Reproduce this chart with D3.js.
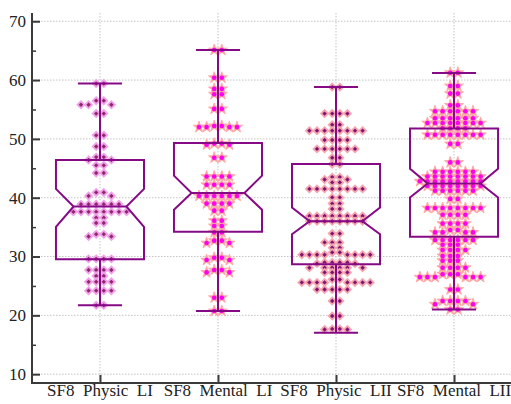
<!DOCTYPE html>
<html>
<head>
<meta charset="utf-8">
<script src="https://cdn.jsdelivr.net/npm/d3@7"></script>
<style>
  body { margin: 0; background: #fff; }
  svg { display: block; }
  text { font-family: "Liberation Serif", "Times New Roman", serif; fill: #222; }
</style>
</head>
<body>
<svg width="511" height="404"></svg>
<script>
const categories = ['SF8  Physic  LI', 'SF8  Mental  LI', 'SF8  Physic  LII', 'SF8  Mental  LII'];
const yTicks = [10, 20, 30, 40, 50, 60, 70];

// box statistics
const q1s       = [29.55, 34.2, 28.7, 33.35];
const medians   = [38.5, 40.8, 36.0, 42.4];
const q3s       = [46.4, 49.3, 45.75, 51.75];
const notchLo   = [35.05, 37.95, 33.8, 40.05];
const notchHi   = [41.5, 43.75, 38.35, 44.9];
const whiskLo   = [21.7, 20.75, 17.05, 21.0];
const whiskHi   = [59.4, 65.1, 58.8, 61.2];

// raw points
const physLI = [59.4,59.4, 56.5,56.5, 55.8,55.8,55.8, 54.3,54.3, 50.6,50.6, 48.7,48.7,
  46.9,46.9, 46.4,46.4, 45.5,45.5, 44.2,44.2, 40.9,40.9, 40.3,40.3,
  38.9,38.9,38.9,38.9,38.9,38.9, 37.6,37.6,37.6,37.6,37.6,37.6,37.6,37.6,
  36.6,36.6, 35.7,35.7, 33.8,33.8, 33.4,33.4, 29.6,29.6,29.6,29.6,
  27.7,27.7,27.7,27.7, 26.7,26.7, 25.7,25.7,25.7,25.7, 24.2,24.2,24.2,24.2, 21.7,21.7];

const mentLI = [65.1,65.1, 60.4,60.4, 58.5,58.5, 57.6,57.6, 55.1,55.1,
  52.2,52.2, 52.0,52.0,52.0,52.0, 49.2,49.2, 49.0,49.0, 46.8,46.8,
  43.6,43.6,43.6,43.6, 42.2,42.2,42.2,42.2, 40.3,40.3,40.3,40.3,40.3,40.3,
  39.0,39.0,39.0,39.0, 37.8,37.8, 36.1,36.1, 35.2,35.2, 34.1,34.1,
  32.7,32.7, 32.3,32.3, 29.8,29.8, 29.4,29.4, 27.7,27.7, 27.3,27.3,
  23.0,23.0, 20.75,20.75];

const physLII = [58.8,58.8, 54.3,54.3,54.3,54.3, 52.4,52.4,
  51.4,51.4,51.4,51.4,51.4,51.4,51.4,51.4, 49.8,49.8,49.8,49.8,
  48.3,48.3,48.3,48.3,48.3,48.3, 46.8,46.8, 45.7,45.7,
  43.5,43.5, 43.1,43.1, 42.6,42.6, 41.5,41.5,41.5,41.5,41.5,41.5,41.5,41.5,
  40.05,40.05, 39.0,39.0, 38.1,38.1,
  36.9,36.9,36.9,36.9,36.9,36.9,36.9,36.9, 36.0,36.0,36.0,36.0,36.0,36.0,36.0,36.0,
  33.9,33.9, 32.4,32.4,32.4, 31.5,31.5, 30.7,30.7,
  30.3,30.3,30.3,30.3,30.3,30.3,30.3,30.3, 29.0,29.0,29.0,29.0, 28.8,28.8,
  28.1,28.1,28.1,28.1,28.1,28.1, 27.3,27.3,27.3,27.3, 26.1,26.1,
  25.6,25.6,25.6,25.6,25.6,25.6,25.6,25.6, 24.4,24.4,24.4,24.4,24.4,
  22.45,22.45, 19.9,19.9, 17.7,17.7, 17.6,17.6];

const mentLII = [61.25,61.25, 59.0,59.0, 57.7,57.7, 55.7,55.7,
  54.7,54.7,54.7,54.7,54.7,54.7, 53.5,53.5,53.5,53.5,53.5,53.5,
  52.7,52.7,52.7,52.7,52.7,52.7,52.7,52.7, 51.8,51.8,51.8,51.8,
  50.7,50.7,50.7,50.7,50.7,50.7,50.7,50.7, 49.15,49.15, 46.0,46.0,
  44.4,44.4,44.4,44.4,44.4,44.4, 43.6,43.6,43.6,43.6,43.6,43.6,43.6,43.6,
  42.8,42.8,42.8,42.8,42.8,42.8,42.8,42.8,42.8, 42.0,42.0,42.0,42.0,42.0,42.0,42.0,42.0,
  41.2,41.2,41.2,41.2,41.2,41.2, 39.8,39.8,
  38.25,38.25,38.25,38.25,38.25,38.25,38.25,38.25, 37.1,37.1,37.1,37.1,
  35.6,35.6,35.6,35.6, 34.5,34.5, 34.1,34.1,34.1,34.1,
  32.8,32.8,32.8,32.8,32.8,32.8, 32.0,32.0,32.0, 31.1,31.1,31.1,31.1,
  30.1,30.1,30.1, 29.3,29.3,29.3, 28.1,28.1,28.1,28.1, 27.0,27.0,27.0,
  26.5,26.5,26.5,26.5,26.5,26.5, 24.4,24.4, 22.45,22.45,22.45,22.45,
  21.9,21.9, 21.0,21.0];

const groups = [physLI, mentLI, physLII, mentLII];
const markerKind = ['diamond', 'star', 'diamond', 'star'];

const svg = d3.select('svg');
const width = +svg.attr('width');

const plot = { left: 32, right: 522, top: 13, bottom: 383 };

const yScale = d3.scaleLinear().domain([8.5, 71.4]).range([plot.bottom, plot.top]);
const xScale = d3.scalePoint().domain(categories).range([plot.left, plot.right]).padding(0.576);

// grid
const grid = svg.append('g').attr('stroke', '#c4c4c4').attr('stroke-dasharray', '1.5,1.5');
grid.selectAll('.hg').data(yTicks).enter().append('line')
  .attr('x1', plot.left).attr('x2', width)
  .attr('y1', d => yScale(d)).attr('y2', d => yScale(d));
grid.selectAll('.vg').data(categories).enter().append('line')
  .attr('x1', d => xScale(d)).attr('x2', d => xScale(d))
  .attr('y1', plot.top).attr('y2', plot.bottom);

// swarm layout on a half-step grid
const spacing = 7.6;
const swarm = values => {
  const placed = [];
  values.slice().sort((a, b) => b - a).forEach(v => {
    const py = yScale(v);
    for (let k = 0; ; k++) {
      const slot = (k % 2 === 0 ? -1 : 1) * (Math.floor(k / 2) + 0.5);
      if (!placed.some(p => p.slot === slot && Math.abs(p.py - py) < 4.5)) {
        placed.push({ v, py, slot });
        break;
      }
    }
  });
  return placed;
};

const boxHalf = xScale.step() * 0.373;
const notchHalf = boxHalf * 0.6;
const capHalf = boxHalf * 0.5;

categories.forEach((cat, i) => {
  const cx = xScale(cat);
  const pts = swarm(groups[i]);
  const g = svg.append('g');

  // points
  if (markerKind[i] === 'diamond') {
    const fill = i === 0 ? '#8e2a68' : '#7c1670';
    const halo = i === 0 ? '#f2a0ec' : '#f6a4b0';
    g.selectAll('path').data(pts).enter().append('path')
      .attr('d', d3.symbol(d3.symbolSquare, 24)())
      .attr('transform', d => `translate(${cx + d.slot * spacing},${d.py}) rotate(45)`)
      .attr('fill', fill).attr('stroke', halo).attr('stroke-width', 1.8);
  } else {
    g.selectAll('.s').data(pts).enter().append('path')
      .attr('d', d3.symbol(d3.symbolStar, 40)())
      .attr('transform', d => `translate(${cx + d.slot * spacing},${d.py})`)
      .attr('fill', '#ff9c9c').attr('stroke', '#ffaaaa').attr('stroke-width', 1);
    g.selectAll('.c').data(pts).enter().append('circle')
      .attr('cx', d => cx + d.slot * spacing).attr('cy', d => d.py)
      .attr('r', 2.3).attr('fill', '#ff00f0');
  }

  // notched box
  const x0 = cx - boxHalf, x1 = cx + boxHalf;
  const boxPath = d3.path();
  boxPath.moveTo(x0, yScale(q3s[i]));
  boxPath.lineTo(x0, yScale(notchHi[i]));
  boxPath.lineTo(cx - notchHalf, yScale(medians[i]));
  boxPath.lineTo(x0, yScale(notchLo[i]));
  boxPath.lineTo(x0, yScale(q1s[i]));
  boxPath.lineTo(x1, yScale(q1s[i]));
  boxPath.lineTo(x1, yScale(notchLo[i]));
  boxPath.lineTo(cx + notchHalf, yScale(medians[i]));
  boxPath.lineTo(x1, yScale(notchHi[i]));
  boxPath.lineTo(x1, yScale(q3s[i]));
  boxPath.closePath();

  const stroke = '#860a86';
  g.append('path').attr('d', boxPath.toString())
    .attr('fill', 'none').attr('stroke', stroke).attr('stroke-width', 2);
  g.append('line')
    .attr('x1', cx - notchHalf).attr('x2', cx + notchHalf)
    .attr('y1', yScale(medians[i])).attr('y2', yScale(medians[i]))
    .attr('stroke', stroke).attr('stroke-width', 2);

  // whiskers + caps
  [[q3s[i], whiskHi[i]], [q1s[i], whiskLo[i]]].forEach(([a, b]) => {
    g.append('line').attr('x1', cx).attr('x2', cx)
      .attr('y1', yScale(a)).attr('y2', yScale(b))
      .attr('stroke', stroke).attr('stroke-width', 2);
    g.append('line').attr('x1', cx - capHalf).attr('x2', cx + capHalf)
      .attr('y1', yScale(b)).attr('y2', yScale(b))
      .attr('stroke', stroke).attr('stroke-width', 2);
  });
});

// axes
const yAxis = d3.axisRight(yScale).tickValues(yTicks).tickSize(8).tickFormat('');
const yAxisG = svg.append('g').attr('transform', `translate(${plot.left},0)`).call(yAxis);
yAxisG.select('.domain').remove();
yAxisG.selectAll('line').attr('stroke', '#3a3a3a').attr('stroke-width', 2);

const yMinor = d3.axisRight(yScale).tickValues(d3.range(15, 70, 10)).tickSize(4).tickFormat('');
const yMinorG = svg.append('g').attr('transform', `translate(${plot.left},0)`).call(yMinor);
yMinorG.select('.domain').remove();
yMinorG.selectAll('line').attr('stroke', '#3a3a3a').attr('stroke-width', 1.5);

svg.append('g').selectAll('text').data(yTicks).enter().append('text')
  .attr('x', 26).attr('y', d => yScale(d)).attr('dy', '0.35em')
  .attr('text-anchor', 'end').attr('font-size', 17)
  .text(d => d);

const xAxis = d3.axisTop(xScale).tickSize(8).tickFormat('');
const xAxisG = svg.append('g').attr('transform', `translate(0,${plot.bottom})`).call(xAxis);
xAxisG.select('.domain').remove();
xAxisG.selectAll('line').attr('stroke', '#3a3a3a').attr('stroke-width', 2);

svg.append('g').selectAll('text').data(categories).enter().append('text')
  .attr('x', d => xScale(d)).attr('y', 396)
  .attr('text-anchor', 'middle').attr('font-size', 17)
  .style('white-space', 'pre')
  .text(d => d);

// axis lines
svg.append('line').attr('x1', plot.left).attr('x2', plot.left)
  .attr('y1', plot.top).attr('y2', plot.bottom + 1)
  .attr('stroke', '#3a3a3a').attr('stroke-width', 2);
svg.append('line').attr('x1', plot.left - 1).attr('x2', width)
  .attr('y1', plot.bottom).attr('y2', plot.bottom)
  .attr('stroke', '#3a3a3a').attr('stroke-width', 2);
</script>
</body>
</html>
